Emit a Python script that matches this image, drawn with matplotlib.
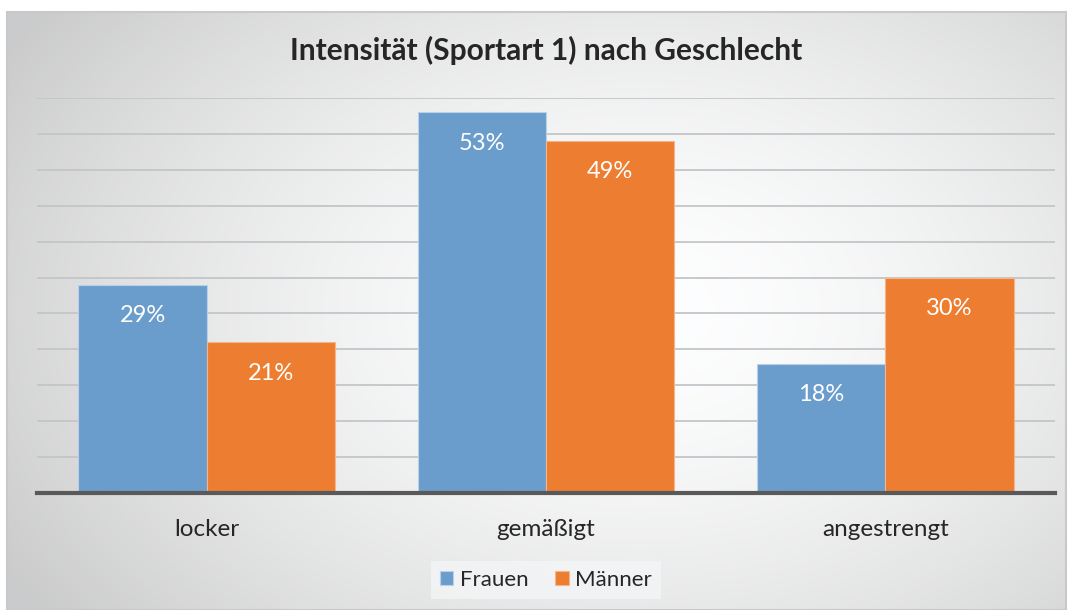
import numpy as np
import matplotlib.pyplot as plt
from matplotlib.patches import Rectangle

plt.rcParams['font.family'] = ['Lato', 'DejaVu Sans']

kategorien = ['locker', 'gemäßigt', 'angestrengt']
frauen = [29, 53, 18]
maenner = [21, 49, 30]
serien = ['Frauen', 'Männer']
titel = 'Intensität (Sportart 1) nach Geschlecht'

blau = '#6a9dcc'
orange = '#ed7d31'

W, H = 1072, 610
fig = plt.figure(figsize=(W / 100, H / 100), dpi=100)

# radial gradient background inside the chart frame
x0, y0, x1, y1 = 7, 12, 1066, 610
bg = fig.add_axes([x0 / W, 1 - y1 / H, (x1 - x0) / W, (y1 - y0) / H])
gx, gy = np.meshgrid(np.linspace(0, 1, 400), np.linspace(0, 1, 240))
r = np.sqrt(((gx - 0.6) / 0.7) ** 2 + ((gy - 0.5) / 0.85) ** 2)
r = np.clip(r, 0, 1)
shade = 1.0 - 0.2 * r ** 1.6
img = np.dstack([shade * 0.995, shade * 0.997, shade * 1.0])
img = np.clip(img, 0, 1)
bg.imshow(img, aspect='auto', extent=[0, 1, 0, 1])
bg.set_axis_off()
fig.patches.append(Rectangle((x0 / W, 1 - y1 / H), (x1 - x0) / W, (y1 - y0) / H,
                             transform=fig.transFigure, fill=False,
                             edgecolor='#c8c9cc', linewidth=1.5, zorder=5))

# plot area
px0, px1, py0, py1 = 37, 1055, 98, 493
ax = fig.add_axes([px0 / W, 1 - py1 / H, (px1 - px0) / W, (py1 - py0) / H])
ax.patch.set_alpha(0)

x = np.arange(len(kategorien))
bw = 0.378
b1 = ax.bar(x - bw / 2, frauen, bw, color=blau, edgecolor='#b9d0e8', linewidth=0.8,
            label=serien[0], zorder=3)
b2 = ax.bar(x + bw / 2, maenner, bw, color=orange, edgecolor='#f5b58a', linewidth=0.8,
            label=serien[1], zorder=3)

for bars, vals in ((b1, frauen), (b2, maenner)):
    for b, v in zip(bars, vals):
        ax.text(b.get_x() + b.get_width() / 2, v - 4.3, f'{v}%', ha='center', va='center',
                color='white', fontsize=17, zorder=4)

ax.set_xlim(-0.5, len(kategorien) - 0.5)
ax.set_ylim(0, 55)
ax.set_yticks(np.arange(5, 56, 5))
ax.yaxis.grid(True, color='#c4c5c8', linewidth=1.3, zorder=0)
ax.tick_params(axis='y', left=False, labelleft=False)
ax.tick_params(axis='x', bottom=False, labelsize=17.5, colors='#262626', pad=15)
ax.set_xticks(x)
ax.set_xticklabels(kategorien)
for s in ['top', 'right', 'left']:
    ax.spines[s].set_visible(False)
ax.spines['bottom'].set_color('#595959')
ax.spines['bottom'].set_linewidth(3)
ax.spines['bottom'].set_zorder(5)

fig.text(546 / W, 1 - 50 / H, titel, ha='center', va='center', fontsize=21.5,
         fontweight='bold', color='#262626')

leg = fig.legend(loc='center', bbox_to_anchor=(546 / W, 1 - 580 / H), ncol=2,
                 frameon=True, fontsize=16, handlelength=0.6, handleheight=0.6,
                 handletextpad=0.3, columnspacing=1.2, borderpad=0.5,
                 borderaxespad=0)
leg.get_frame().set_facecolor('#f4f5f6')
leg.get_frame().set_edgecolor('none')
leg.get_frame().set_alpha(0.8)
leg.get_frame().set_boxstyle('square', pad=-0.1)
for t in leg.get_texts():
    t.set_color('#262626')

fig.savefig('out.png', dpi=100, facecolor='white')
